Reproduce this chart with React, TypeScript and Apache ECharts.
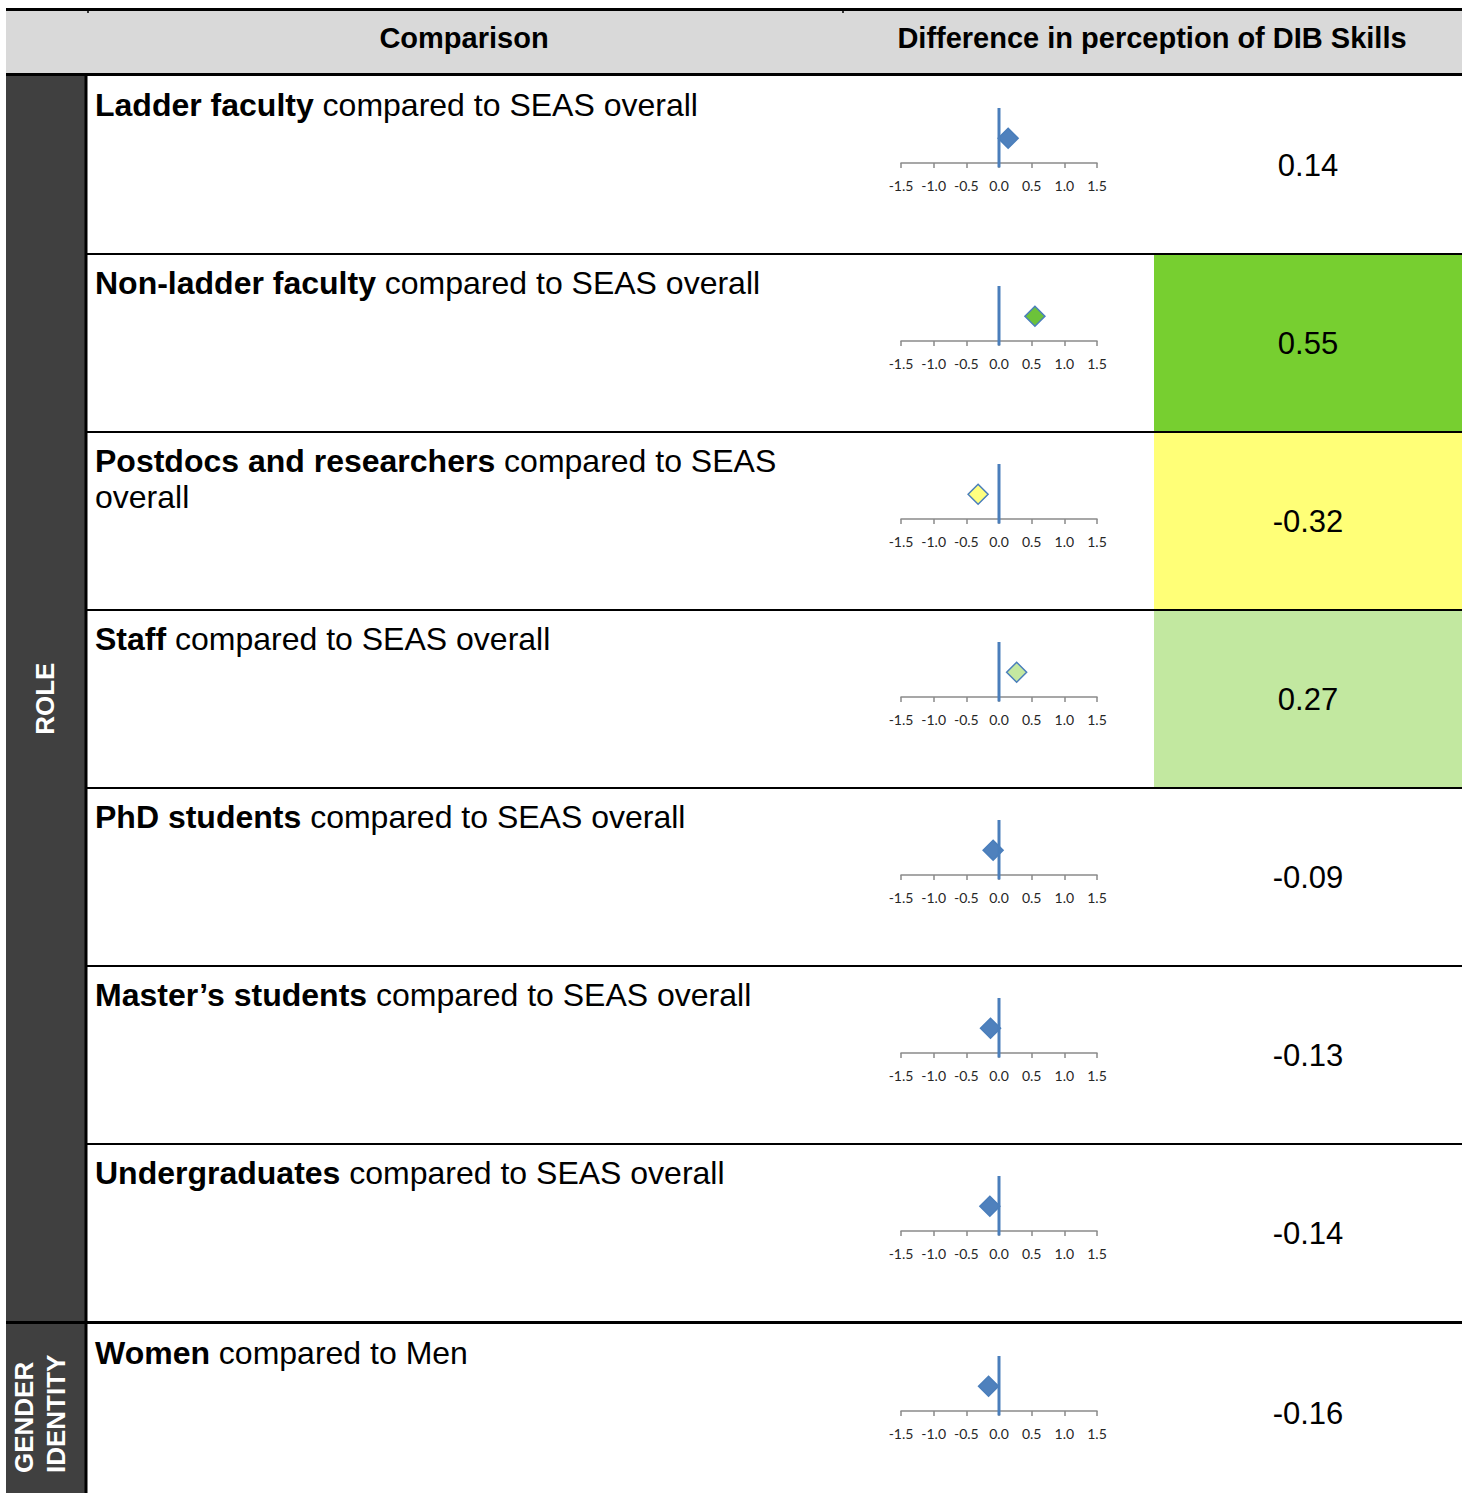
import React, { useEffect, useRef } from "react";
import * as echarts from "echarts";

const headers = ["Comparison", "Difference in perception of DIB Skills"];
const boldLabels = [
  "Ladder faculty",
  "Non-ladder faculty",
  "Postdocs and researchers",
  "Staff",
  "PhD students",
  "Master\u2019s students",
  "Undergraduates",
  "Women",
];
const restLabels = [
  " compared to SEAS overall",
  " compared to SEAS overall",
  " compared to SEAS\noverall",
  " compared to SEAS overall",
  " compared to SEAS overall",
  " compared to SEAS overall",
  " compared to SEAS overall",
  " compared to Men",
];
const differences = [0.14, 0.55, -0.32, 0.27, -0.09, -0.13, -0.14, -0.16];
const groupNames = ["ROLE", "GENDER\nIDENTITY"];
const groupRowCounts = [7, 1];

const FONT = "'Liberation Sans', Arial, sans-serif";
const W = 1462;
const H = 1493;
const ROW_H = 178;
const BLUE = "#4a7ebb";

function cellColor(v: number): string | null {
  if (v >= 0.5) return "#77cf30";
  if (v >= 0.25) return "#c2e8a0";
  if (v <= -0.25) return "#ffff77";
  return null;
}
function pointColor(v: number): string {
  if (v >= 0.5) return "#6cc23a";
  if (v >= 0.25) return "#c4e8a0";
  if (v <= -0.25) return "#ffff80";
  return "#4f81bd";
}

function rowTop(i: number): number {
  return 76 + i * ROW_H + (i >= groupRowCounts[0] ? 2 : 0);
}

export default function App() {
  const ref = useRef<HTMLDivElement>(null);
  useEffect(() => {
    document.body.style.margin = "0";
    if (!ref.current) return;
    const chart = echarts.init(ref.current, null, { renderer: "svg" });

    const grids: any[] = [];
    const xAxes: any[] = [];
    const yAxes: any[] = [];
    const series: any[] = [];
    const graphics: any[] = [];

    graphics.push({ type: "rect", shape: { x: 6, y: 10, width: W - 6, height: 64 }, style: { fill: "#d9d9d9" }, z: 0 });
    graphics.push({ type: "rect", shape: { x: 6, y: 75, width: 80, height: H - 75 }, style: { fill: "#404040" }, z: 0 });

    differences.forEach((v, i) => {
      const top = rowTop(i);
      const c = cellColor(v);
      const bottom = i === differences.length - 1 ? H : top + ROW_H - 1;
      if (c) {
        graphics.push({
          type: "rect",
          shape: { x: 1154, y: top, width: W - 1154, height: bottom - top },
          style: { fill: c },
          z: 0,
        });
      }
      graphics.push({
        type: "text",
        x: 95,
        y: top + 11,
        z: 5,
        style: {
          text: `{b|${boldLabels[i]}}{r|${restLabels[i]}}`,
          verticalAlign: "top",
          align: "left",
          rich: {
            b: { fontFamily: FONT, fontSize: 32, fontWeight: "bold", fill: "#000", lineHeight: 36 },
            r: { fontFamily: FONT, fontSize: 32, fill: "#000", lineHeight: 36 },
          },
        },
      });
      graphics.push({
        type: "text",
        x: 1308,
        y: top + 89,
        z: 5,
        style: {
          text: v.toFixed(2),
          fontFamily: FONT,
          fontSize: 31,
          fill: "#000",
          align: "center",
          verticalAlign: "middle",
        },
      });

      grids.push({ left: 901, width: 196, top: top + 32, height: 55 });
      xAxes.push({
        type: "value",
        gridIndex: i,
        min: -1.5,
        max: 1.5,
        interval: 0.5,
        splitLine: { show: false },
        axisLine: { show: true, onZero: false, lineStyle: { color: "#8a8a8a", width: 1.5 } },
        axisTick: { show: true, length: 5, lineStyle: { color: "#8a8a8a", width: 1.5 } },
        axisLabel: {
          fontSize: 14,
          color: "#262626",
          margin: 15,
          fontFamily: "Lato, 'Open Sans', sans-serif",
          formatter: (x: number) => x.toFixed(1),
          showMinLabel: true,
          showMaxLabel: true,
        },
      });
      yAxes.push({ type: "value", gridIndex: i, min: 0, max: 1, show: false });
      series.push({
        type: "scatter",
        xAxisIndex: i,
        yAxisIndex: i,
        data: [[v, 0.45]],
        symbol: "diamond",
        symbolSize: 20,
        itemStyle: { color: pointColor(v), borderColor: BLUE, borderWidth: 1.5, opacity: 1 },
        z: 2,
      });
      series.push({
        type: "line",
        xAxisIndex: i,
        yAxisIndex: i,
        data: [[0, -0.08], [0, 1]],
        symbol: "none",
        clip: false,
        lineStyle: { color: BLUE, width: 3 },
        z: 3,
      });
    });

    for (let i = 1; i < groupRowCounts[0]; i++) {
      const y = 76 + i * ROW_H;
      graphics.push({ type: "line", shape: { x1: 87, y1: y, x2: W, y2: y }, style: { stroke: "#000", lineWidth: 2 }, z: 6 });
    }
    const secY = 76 + groupRowCounts[0] * ROW_H + 0.5;
    graphics.push({ type: "line", shape: { x1: 6, y1: secY, x2: W, y2: secY }, style: { stroke: "#000", lineWidth: 3 }, z: 6 });
    graphics.push({ type: "line", shape: { x1: 6, y1: 9.5, x2: W, y2: 9.5 }, style: { stroke: "#000", lineWidth: 3 }, z: 6 });
    graphics.push({ type: "line", shape: { x1: 6, y1: 74.5, x2: W, y2: 74.5 }, style: { stroke: "#000", lineWidth: 3 }, z: 6 });
    graphics.push({ type: "line", shape: { x1: 88, y1: 8, x2: 88, y2: 13 }, style: { stroke: "#000", lineWidth: 1.5 }, z: 6 });
    graphics.push({ type: "line", shape: { x1: 843, y1: 8, x2: 843, y2: 13 }, style: { stroke: "#000", lineWidth: 1.5 }, z: 6 });
    graphics.push({ type: "line", shape: { x1: 86, y1: 75, x2: 86, y2: H }, style: { stroke: "#000", lineWidth: 3 }, z: 6 });

    graphics.push({
      type: "text", x: 464, y: 38, z: 7,
      style: { text: headers[0], fontFamily: FONT, fontSize: 29, fontWeight: "bold", fill: "#000", align: "center", verticalAlign: "middle" },
    });
    graphics.push({
      type: "text", x: 1152, y: 38, z: 7,
      style: { text: headers[1], fontFamily: FONT, fontSize: 29, fontWeight: "bold", fill: "#000", align: "center", verticalAlign: "middle" },
    });

    graphics.push({
      type: "text", x: 45, y: (75 + secY) / 2, rotation: Math.PI / 2, z: 7,
      style: { text: groupNames[0], fontFamily: FONT, fontSize: 26, fontWeight: "bold", fill: "#fff", align: "center", verticalAlign: "middle" },
    });
    graphics.push({
      type: "text", x: 40, y: 1473, rotation: Math.PI / 2, z: 7,
      style: { text: groupNames[1], fontFamily: FONT, fontSize: 26, fontWeight: "bold", fill: "#fff", align: "left", verticalAlign: "middle", lineHeight: 32 },
    });

    chart.setOption({
      animation: false,
      backgroundColor: "#fff",
      grid: grids,
      xAxis: xAxes,
      yAxis: yAxes,
      series,
      graphic: graphics,
    });
    return () => chart.dispose();
  }, []);
  return <div ref={ref} style={{ width: W, height: H }} />;
}
